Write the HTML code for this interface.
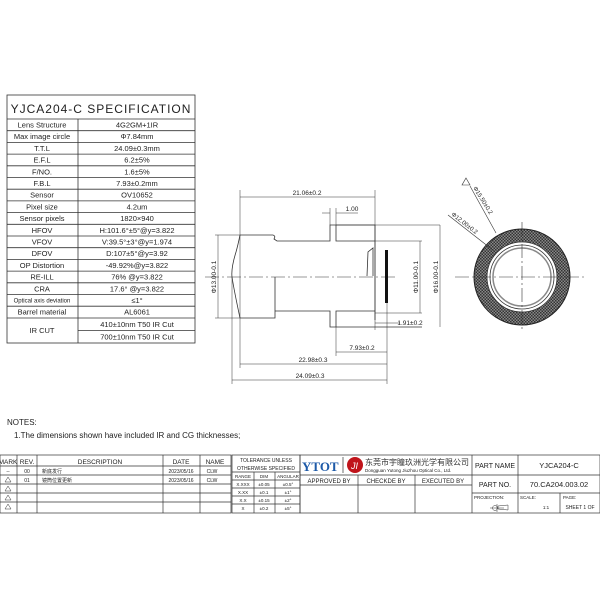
<!DOCTYPE html>
<html><head><meta charset="utf-8"><style>
body{margin:0;background:#fff}
svg{display:block}
text{font-family:"Liberation Sans","Noto Sans CJK SC",sans-serif;fill:#222}
</style></head><body>
<svg width="600" height="600" viewBox="0 0 600 600" xmlns="http://www.w3.org/2000/svg">
<defs>
<pattern id="h" width="3" height="3" patternUnits="userSpaceOnUse"><rect width="3" height="3" fill="#888"/><rect width="1.5" height="1.5" fill="#333"/><rect x="1.5" y="1.5" width="1.5" height="1.5" fill="#333"/></pattern>
</defs>
<g stroke="#333" stroke-width="0.8" fill="none">
<rect x="7" y="95" width="188" height="248"/>
<line x1="7" y1="119" x2="195" y2="119"/>
<line x1="78" y1="119" x2="78" y2="343"/>
<line x1="7" y1="130.7" x2="195" y2="130.7"/>
<line x1="7" y1="142.4" x2="195" y2="142.4"/>
<line x1="7" y1="154.1" x2="195" y2="154.1"/>
<line x1="7" y1="165.8" x2="195" y2="165.8"/>
<line x1="7" y1="177.5" x2="195" y2="177.5"/>
<line x1="7" y1="189.2" x2="195" y2="189.2"/>
<line x1="7" y1="200.9" x2="195" y2="200.9"/>
<line x1="7" y1="212.6" x2="195" y2="212.6"/>
<line x1="7" y1="224.3" x2="195" y2="224.3"/>
<line x1="7" y1="236" x2="195" y2="236"/>
<line x1="7" y1="247.7" x2="195" y2="247.7"/>
<line x1="7" y1="259.4" x2="195" y2="259.4"/>
<line x1="7" y1="271.1" x2="195" y2="271.1"/>
<line x1="7" y1="282.8" x2="195" y2="282.8"/>
<line x1="7" y1="294.5" x2="195" y2="294.5"/>
<line x1="7" y1="306.2" x2="195" y2="306.2"/>
<line x1="7" y1="318" x2="195" y2="318"/>
<line x1="78" y1="330.5" x2="195" y2="330.5"/>
</g>
<text x="101" y="113" font-size="12" text-anchor="middle" letter-spacing="1">YJCA204-C SPECIFICATION</text>
<g font-size="7.5" text-anchor="middle">
<text x="42" y="127.5">Lens Structure</text><text x="137" y="127.5">4G2GM+1IR</text>
<text x="42" y="139.2">Max image circle</text><text x="137" y="139.2">Φ7.84mm</text>
<text x="42" y="150.9">T.T.L</text><text x="137" y="150.9">24.09±0.3mm</text>
<text x="42" y="162.6">E.F.L</text><text x="137" y="162.6">6.2±5%</text>
<text x="42" y="174.3">F/NO.</text><text x="137" y="174.3">1.6±5%</text>
<text x="42" y="186">F.B.L</text><text x="137" y="186">7.93±0.2mm</text>
<text x="42" y="197.7">Sensor</text><text x="137" y="197.7">OV10652</text>
<text x="42" y="209.4">Pixel size</text><text x="137" y="209.4">4.2um</text>
<text x="42" y="221.1">Sensor pixels</text><text x="137" y="221.1">1820×940</text>
<text x="42" y="232.8">HFOV</text><text x="137" y="232.8">H:101.6°±5°@y=3.822</text>
<text x="42" y="244.5">VFOV</text><text x="137" y="244.5">V:39.5°±3°@y=1.974</text>
<text x="42" y="256.2">DFOV</text><text x="137" y="256.2">D:107±5°@y=3.92</text>
<text x="42" y="267.9">OP Distortion</text><text x="137" y="267.9">-49.92%@y=3.822</text>
<text x="42" y="279.6">RE-ILL</text><text x="137" y="279.6">76% @y=3.822</text>
<text x="42" y="291.3">CRA</text><text x="137" y="291.3">17.6° @y=3.822</text>
<text x="42" y="302.5" font-size="6">Optical axis deviation</text><text x="137" y="303">≤1°</text>
<text x="42" y="314.7">Barrel material</text><text x="137" y="314.7">AL6061</text>
<text x="42" y="333">IR CUT</text><text x="137" y="327">410±10nm T50 IR Cut</text><text x="137" y="339.5">700±10nm T50 IR Cut</text>
</g>

<g stroke="#333" stroke-width="0.8" fill="none">
<path d="M240 235 L273 235 Q276 236 274 239 L277 241 L330 241 L330 225 L336 225 L336 241 L375 241"/>
<path d="M336 225 L375 225 L375 320"/>
<path d="M240 235 Q238 245 236 252 Q231 268 232 277 Q234 290 240 318"/>
<path d="M240 318 L275 318 L275 277 M275 311 L330 311 L330 327 L336 327 L336 311 L375 311"/>
<path d="M336 327 L422 327"/>
<path d="M367 276 L368 252 L373 248 L373 276"/>
<line x1="336" y1="225" x2="440" y2="225" stroke-width="0.6"/>
<line x1="375" y1="241" x2="422" y2="241" stroke-width="0.6"/>
<line x1="375" y1="313" x2="422" y2="313" stroke-width="0.6"/>
<line x1="205" y1="277" x2="395" y2="277" stroke-dasharray="14 3 2 3" stroke-width="0.6"/>
<g stroke-width="0.5">
<line x1="240" y1="190" x2="240" y2="368"/><line x1="375" y1="190" x2="375" y2="330"/>
<line x1="240" y1="197" x2="375" y2="197"/>
<line x1="330" y1="208" x2="330" y2="225"/><line x1="336" y1="208" x2="336" y2="225"/>
<line x1="322" y1="213" x2="330" y2="213"/><line x1="336" y1="213" x2="358" y2="213"/>
<line x1="215" y1="235" x2="240" y2="235"/><line x1="215" y1="318" x2="240" y2="318"/>
<line x1="218" y1="235" x2="218" y2="318"/>
<line x1="420" y1="241" x2="420" y2="313"/>
<line x1="440" y1="225" x2="440" y2="327"/>
<line x1="387" y1="303" x2="387" y2="384"/>
<line x1="375" y1="323" x2="400" y2="323"/>
<line x1="336" y1="327" x2="336" y2="356"/>
<line x1="336" y1="352" x2="387" y2="352"/>
<line x1="240" y1="364" x2="387" y2="364"/>
<line x1="232" y1="277" x2="232" y2="384"/>
<line x1="232" y1="380" x2="387" y2="380"/>
</g>
<rect x="385" y="250" width="3" height="53" fill="#111" stroke="none"/>
</g>
<g font-size="6.5" text-anchor="middle">
<text x="307" y="195">21.06±0.2</text>
<text x="352" y="211">1.00</text>
<text x="410" y="325">1.91±0.2</text>
<text x="362" y="350">7.93±0.2</text>
<text x="313" y="362">22.98±0.3</text>
<text x="310" y="378">24.09±0.3</text>
<text transform="translate(216 277) rotate(-90)">Φ13.00-0.1</text>
<text transform="translate(418 277) rotate(-90)">Φ11.00-0.1</text>
<text transform="translate(438 277) rotate(-90)">Φ16.00-0.1</text>
</g>

<circle cx="522" cy="277" r="48" fill="url(#h)" stroke="#222" stroke-width="1"/>
<circle cx="522" cy="277" r="35" fill="#fff" stroke="#333" stroke-width="0.8"/>
<circle cx="522" cy="277" r="32" fill="none" stroke="#333" stroke-width="0.8"/>
<circle cx="522" cy="277" r="29" fill="none" stroke="#888" stroke-width="1.5"/>
<g stroke="#333" stroke-width="0.6">
<line x1="455" y1="277" x2="585" y2="277" stroke-dasharray="14 3 2 3"/>
<line x1="522" y1="222" x2="522" y2="332" stroke-dasharray="14 3 2 3"/>
<line x1="470" y1="186" x2="496" y2="233"/>
<line x1="448" y1="215" x2="494" y2="251"/>
</g>
<path d="M466 178 l4 7 h-8z" fill="none" stroke="#333" stroke-width="0.6"/>
<g font-size="6">
<text transform="translate(473 188) rotate(58)">Φ15.50±0.2</text>
<text transform="translate(451 215) rotate(38)">Φ12.00±0.2</text>
</g>

<text x="7" y="425" font-size="8">NOTES:</text>
<text x="14" y="438" font-size="8">1.The dimensions shown have included IR and CG thicknesses;</text>

<g stroke="#333" stroke-width="0.7" fill="none">
<rect x="0" y="455" width="231" height="58"/>
<line x1="0" y1="466" x2="231" y2="466"/>
<line x1="0" y1="475" x2="231" y2="475"/><line x1="0" y1="484" x2="231" y2="484"/>
<line x1="0" y1="493" x2="231" y2="493"/><line x1="0" y1="502" x2="231" y2="502"/>
<line x1="17" y1="455" x2="17" y2="513"/><line x1="37" y1="455" x2="37" y2="513"/>
<line x1="163" y1="455" x2="163" y2="513"/><line x1="200" y1="455" x2="200" y2="513"/>
<rect x="232" y="455" width="68" height="58"/>
<line x1="232" y1="472" x2="300" y2="472"/>
<line x1="232" y1="480" x2="300" y2="480"/><line x1="232" y1="488" x2="300" y2="488"/>
<line x1="232" y1="496" x2="300" y2="496"/><line x1="232" y1="504" x2="300" y2="504"/>
<line x1="254" y1="472" x2="254" y2="513"/><line x1="275" y1="472" x2="275" y2="513"/>
<rect x="300" y="455" width="300" height="58"/>
<line x1="300" y1="475" x2="600" y2="475"/>
<line x1="300" y1="485" x2="472" y2="485"/>
<line x1="472" y1="455" x2="472" y2="513"/>
<line x1="518" y1="455" x2="518" y2="493"/>
<line x1="472" y1="493" x2="600" y2="493"/>
<line x1="358" y1="475" x2="358" y2="513"/><line x1="415" y1="475" x2="415" y2="513"/>
<line x1="518" y1="493" x2="518" y2="513"/><line x1="560" y1="493" x2="560" y2="513"/>
<line x1="343" y1="457" x2="343" y2="473"/>
</g>
<g font-size="6.5" text-anchor="middle">
<text x="8" y="464">MARK</text><text x="27" y="464">REV.</text><text x="100" y="464">DESCRIPTION</text>
<text x="181" y="464">DATE</text><text x="215" y="464">NAME</text>
<text x="8" y="473" font-size="5">--</text><text x="27" y="473" font-size="5">00</text>
<text x="27" y="482" font-size="5">01</text>
<text x="181" y="473" font-size="5">2023/05/16</text><text x="181" y="482" font-size="5">2023/05/16</text>
<text x="212" y="473" font-size="5">CLW</text><text x="212" y="482" font-size="5">CLW</text>
<text x="266" y="462" font-size="5">TOLERANCE UNLESS</text><text x="266" y="470" font-size="5">OTHERWISE SPECIFIED</text>
<text x="243" y="478" font-size="4.5">RANGE</text><text x="264" y="478" font-size="4.5">DIM</text><text x="288" y="478" font-size="4.5">ANGULAR</text>
<text x="243" y="486" font-size="4.5">X.XXX</text><text x="264" y="486" font-size="4.5">±0.05</text><text x="288" y="486" font-size="4.5">±0.5°</text>
<text x="243" y="494" font-size="4.5">X.XX</text><text x="264" y="494" font-size="4.5">±0.1</text><text x="288" y="494" font-size="4.5">±1°</text>
<text x="243" y="502" font-size="4.5">X.X</text><text x="264" y="502" font-size="4.5">±0.15</text><text x="288" y="502" font-size="4.5">±2°</text>
<text x="243" y="510" font-size="4.5">X</text><text x="264" y="510" font-size="4.5">±0.2</text><text x="288" y="510" font-size="4.5">±5°</text>
<text x="329" y="483" font-size="6">APPROVED BY</text><text x="386" y="483" font-size="6">CHECKDE BY</text><text x="443" y="483" font-size="6">EXECUTED BY</text>
<text x="495" y="468" font-size="7">PART NAME</text><text x="559" y="468" font-size="7.5">YJCA204-C</text>
<text x="495" y="487" font-size="7">PART NO.</text><text x="559" y="487" font-size="7.5">70.CA204.003.02</text>
<text x="546" y="509" font-size="4.5">1:1</text><text x="580" y="509" font-size="5">SHEET 1 OF</text>
</g>
<g font-size="4.5"><text x="474" y="499">PROJECTION:</text><text x="520" y="499">SCALE:</text><text x="563" y="499">PAGE:</text></g>
<text x="42" y="473" font-size="5">新底发行</text><text x="42" y="482" font-size="5">镜筒位置更新</text>
<g fill="none" stroke="#333" stroke-width="0.5">
<path d="M8 477 l3 5 h-6z"/><path d="M8 486 l3 5 h-6z"/><path d="M8 495 l3 5 h-6z"/><path d="M8 504 l3 5 h-6z"/>
<path d="M490 508 h14 M497 504 v8 M498 506 l10 -1 v5 l-10 -1z"/><circle cx="495" cy="508" r="2.5"/>
</g>
<text x="302" y="471" font-size="13" font-weight="bold" style="fill:#1e5aa8;font-family:'Liberation Serif',serif">YTOT</text>
<circle cx="355" cy="465" r="8" fill="#c0141b"/>
<text x="351" y="469" font-size="9" style="fill:#fff;font-style:italic">JI</text>
<text x="365" y="465" font-size="8" style="fill:#333">东莞市宇瞳玖洲光学有限公司</text>
<text x="365" y="472" font-size="4.5">Dongguan Yutong Jiuzhou Optical Co., Ltd.</text>
</svg>
</body></html>
